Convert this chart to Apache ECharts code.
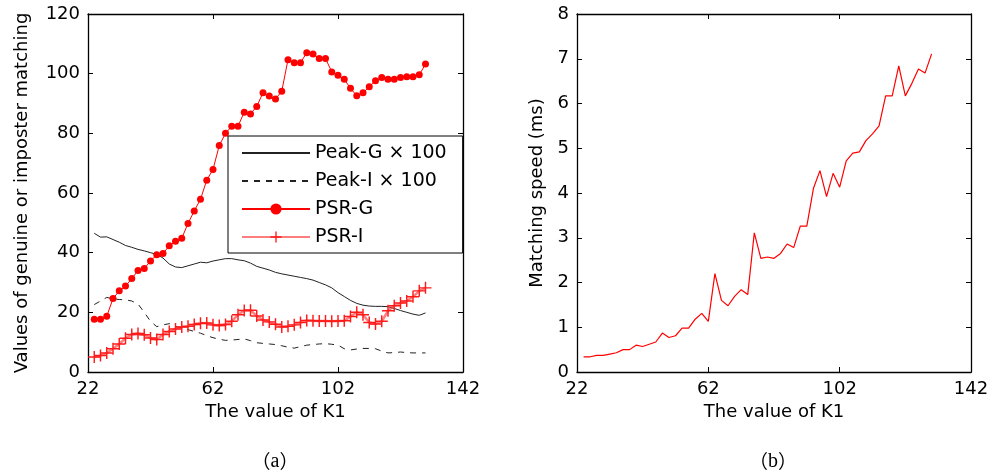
<!DOCTYPE html>
<html>
<head>
<meta charset="utf-8">
<script src="https://cdn.jsdelivr.net/npm/echarts@6/dist/echarts.min.js"></script>
<style>html,body{margin:0;padding:0;background:#fff;}#c{width:992px;height:476px;}</style>
</head>
<body>
<div id="c"></div>
<script>
// K1 values (shared x for all series)
const K1 = [24,26,28,30,32,34,36,38,40,42,44,46,48,50,52,54,56,58,60,62,64,66,68,70,72,74,76,78,80,82,84,86,88,90,92,94,96,98,100,102,104,106,108,110,112,114,116,118,120,122,124,126,128,130];
// Panel (a)
const peakG100 = [46.5,45.2,45.3,44.4,43.5,42.4,41.8,41.1,40.6,40.0,39.4,38.2,36.2,35.2,35.0,35.6,36.2,36.8,36.6,37.2,37.6,38.0,38.0,37.6,37.3,36.5,35.4,34.8,34.2,33.4,32.9,32.5,32.1,31.7,31.3,30.8,30.0,29.2,28.2,26.6,25.3,24.0,23.0,22.4,22.1,22.0,22.0,21.9,21.3,20.6,20.0,19.4,19.0,19.8];
const peakI100 = [22.6,23.8,25.0,24.5,24.3,24.2,23.8,22.8,20.0,17.0,15.2,15.8,16.2,15.3,14.8,14.2,13.6,13.0,12.2,11.5,11.0,10.6,10.7,10.9,11.1,10.5,9.8,9.6,9.4,9.2,8.8,8.3,8.0,8.5,9.0,9.2,9.4,9.5,9.3,9.0,7.8,7.4,7.7,7.9,7.9,7.8,7.0,6.4,6.5,6.7,6.5,6.4,6.4,6.4];
const psrG = [17.7,17.7,18.7,24.6,27.2,28.8,31.3,34.0,34.7,37.2,39.3,39.7,42.3,43.8,44.8,49.8,54.0,57.9,64.3,67.9,75.9,80.0,82.4,82.4,87.1,86.5,89.0,93.6,92.5,91.5,94.1,104.7,103.7,103.7,107.0,106.6,105.1,105.1,100.6,99.5,98.1,95.1,92.6,93.6,95.6,97.6,98.7,98.1,98.1,98.7,99.0,99.0,99.6,103.2];
const psrI = [5.0,5.5,6.4,7.8,9.4,11.3,12.6,12.9,12.5,11.4,10.9,12.6,13.6,14.4,15.1,15.3,15.9,16.3,16.4,15.8,15.6,15.9,17.0,19.2,20.6,20.7,18.8,17.4,16.8,16.0,15.1,15.3,15.8,16.6,17.3,17.2,17.1,17.1,17.0,17.1,17.2,18.6,20.0,19.2,16.6,16.1,17.0,20.5,22.2,23.1,23.8,25.2,27.2,28.2];
// Panel (b)
const speedMs = [0.34,0.34,0.37,0.37,0.40,0.43,0.50,0.50,0.60,0.57,0.62,0.67,0.87,0.77,0.81,0.98,0.98,1.18,1.31,1.13,2.20,1.60,1.48,1.69,1.84,1.73,3.11,2.54,2.57,2.54,2.65,2.86,2.78,3.26,3.26,4.10,4.50,3.92,4.44,4.13,4.72,4.89,4.92,5.17,5.32,5.50,6.17,6.17,6.84,6.17,6.45,6.77,6.68,7.11];
// Tick labels
const xTicks = [22,62,102,142];
const seriesNames = ['Peak-G × 100','Peak-I × 100','PSR-G','PSR-I'];

const pairs = ys => K1.map((k,i)=>[k, ys[i]]);
const FONT = 'DejaVu Sans';
const FS = 18;
const crossPath = 'path://M0,4.4H10V5.6H0Z M4.4,0H5.6V10H4.4Z';

function xAx(grid, top){
  return {
    type:'value', gridIndex:grid, min:22, max:142, position: top?'top':'bottom',
    name: top?'':'The value of K1', nameLocation:'middle', nameGap:30,
    nameTextStyle:{fontFamily:FONT,fontSize:FS,color:'#000'},
    axisLine:{show:true,onZero:false,lineStyle:{color:'#000',width:1.3}},
    axisTick:{show:true,inside:true,length:5,customValues:xTicks,lineStyle:{color:'#000'}},
    axisLabel:{show:!top,customValues:xTicks,fontFamily:FONT,fontSize:FS,color:'#000',margin:8},
    splitLine:{show:false}
  };
}
function yAx(grid, right, max, interval, name, gap){
  return {
    type:'value', gridIndex:grid, min:0, max:max, interval:interval, position: right?'right':'left',
    name: right?'':name, nameLocation:'middle', nameGap:gap,
    nameTextStyle:{fontFamily:FONT,fontSize:FS,color:'#000'},
    axisLine:{show:true,onZero:false,lineStyle:{color:'#000',width:1.3}},
    axisTick:{show:true,inside:true,length:5,lineStyle:{color:'#000'}},
    axisLabel:{show:!right,fontFamily:FONT,fontSize:FS,color:'#000',margin:8},
    splitLine:{show:false}
  };
}

const capStyle = {
  p:{fontFamily:'Noto Sans CJK SC',fontSize:19,fill:'#000'},
  l:{fontFamily:'Liberation Serif',fontSize:20,fill:'#000'}
};

const chart = echarts.init(document.getElementById('c'), null, {renderer:'canvas'});
chart.setOption({
  backgroundColor:'#fff',
  animation:false,
  grid:[
    {left:88, right:529, top:14, bottom:104},
    {left:577, right:21, top:14, bottom:104}
  ],
  xAxis:[xAx(0,false), xAx(0,true), xAx(1,false), xAx(1,true)],
  yAxis:[
    yAx(0,false,120,20,'Values of genuine or imposter matching',57),
    yAx(0,true,120,20,'',0),
    yAx(1,false,8,1,'Matching speed (ms)',31),
    yAx(1,true,8,1,'',0)
  ],
  legend:{
    data:[
      {name:seriesNames[0], itemStyle:{opacity:0}},
      {name:seriesNames[1], itemStyle:{opacity:0}},
      {name:seriesNames[2]},
      {name:seriesNames[3]}
    ],
    orient:'vertical', left:228, top:136,
    itemWidth:68, itemHeight:14, itemGap:8,
    padding:[7,16,6,13],
    borderColor:'#000', borderWidth:1, backgroundColor:'#fff',
    textStyle:{fontFamily:FONT,fontSize:FS+1,color:'#000',lineHeight:20}
  },
  series:[
    {name:seriesNames[0], type:'line', xAxisIndex:0, yAxisIndex:0, data:pairs(peakG100),
     showSymbol:false, symbol:'none', lineStyle:{color:'#222',width:1}, itemStyle:{color:'#222'}},
    {name:seriesNames[1], type:'line', xAxisIndex:0, yAxisIndex:0, data:pairs(peakI100),
     showSymbol:false, symbol:'none', lineStyle:{color:'#222',width:1,type:[6,6]}, itemStyle:{color:'#222'}},
    {name:seriesNames[2], type:'line', xAxisIndex:0, yAxisIndex:0, data:pairs(psrG),
     symbol:'circle', symbolSize:7, showAllSymbol:true,
     lineStyle:{color:'#ff0000',width:1}, itemStyle:{color:'#ff0000'}},
    {name:seriesNames[3], type:'line', xAxisIndex:0, yAxisIndex:0, data:pairs(psrI),
     symbol:crossPath, symbolSize:12, showAllSymbol:true,
     lineStyle:{color:'rgba(255,40,40,0.6)',width:2.5}, itemStyle:{color:'#ff1a1a'}},
    {name:'Matching speed', type:'line', xAxisIndex:2, yAxisIndex:2, data:pairs(speedMs),
     showSymbol:false, symbol:'none', lineStyle:{color:'#ff0000',width:1.2}}
  ],
  graphic:[
    {type:'text', x:275, y:462, style:{text:'{p|（}{l|a}{p|）}',rich:capStyle,align:'center',verticalAlign:'middle'}},
    {type:'text', x:773, y:462, style:{text:'{p|（}{l|b}{p|）}',rich:capStyle,align:'center',verticalAlign:'middle'}}
  ]
});
</script>
</body>
</html>
